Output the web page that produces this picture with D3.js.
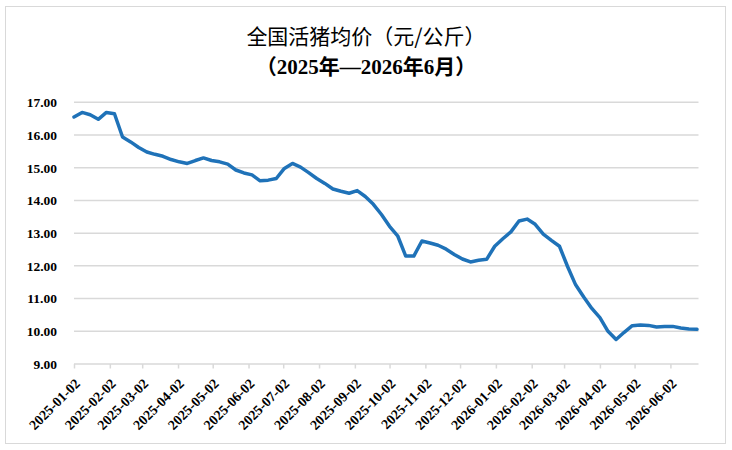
<!DOCTYPE html>
<html><head><meta charset="utf-8">
<script src="https://cdn.jsdelivr.net/npm/d3@7"></script>
<style>
body{margin:0;background:#fff}svg{display:block}
.serif{font-family:"Liberation Serif","Times New Roman",serif !important;font-weight:bold}
</style>
</head><body>
<svg id="c" width="732" height="450"></svg>
<script>
const startDate = "2025-01-02";
const prices = [
16.55,16.69,16.62,16.48,16.69,16.65,15.94,15.79,15.62,15.48,
15.41,15.35,15.25,15.18,15.13,15.22,15.30,15.22,15.18,15.11,
14.93,14.84,14.78,14.60,14.62,14.67,14.98,15.13,15.02,14.85,
14.67,14.52,14.35,14.28,14.22,14.30,14.12,13.88,13.57,13.21,
12.92,12.30,12.30,12.76,12.70,12.63,12.51,12.35,12.21,12.12,
12.17,12.20,12.60,12.83,13.04,13.37,13.43,13.27,12.97,12.78,
12.60,11.98,11.42,11.05,10.70,10.42,10.00,9.75,9.97,10.17,
10.19,10.18,10.13,10.15,10.15,10.10,10.07,10.06];
const yTicks = [9,10,11,12,13,14,15,16,17];
const xTickLabels = ["2025-01-02","2025-02-02","2025-03-02","2025-04-02","2025-05-02","2025-06-02","2025-07-02","2025-08-02","2025-09-02","2025-10-02","2025-11-02","2025-12-02","2026-01-02","2026-02-02","2026-03-02","2026-04-02","2026-05-02","2026-06-02"];
const title1 = "全国活猪均价（元/公斤）";
const title2 = "（2025年—2026年6月）";

const parse = d3.utcParse("%Y-%m-%d");
const fmt = d3.utcFormat("%Y-%m-%d");
const t0 = parse(startDate);
const data = prices.map((v,i)=>({date:d3.utcDay.offset(t0, 7*i), value:v}));
const xTicks = xTickLabels.map(parse);

const svg = d3.select("#c");
svg.append("rect").attr("x",5.5).attr("y",6.5).attr("width",720).attr("height",437)
  .attr("fill","#fff").attr("stroke","#d9d9d9").attr("stroke-width",1);

const L=74, R=697, T=102.3, B=364;
const x = d3.scaleUtc().domain([t0, data[data.length-1].date]).range([L,R]);
const y = d3.scaleLinear().domain([9,17]).range([B,T]);

svg.append("g").selectAll("line").data(yTicks).join("line")
  .attr("x1",L).attr("x2",698.5).attr("y1",d=>y(d)).attr("y2",d=>y(d))
  .attr("stroke","#d9d9d9").attr("stroke-width",1.5);

const yAxis = d3.axisLeft(y).tickValues(yTicks).tickFormat(d3.format(".2f")).tickSize(0).tickPadding(17);
const gy = svg.append("g").attr("transform",`translate(${L},0)`).call(yAxis)
  .attr("font-family",null).attr("font-size",null);
gy.select(".domain").remove();
gy.selectAll("text").attr("class","serif").style("font-size","13.5px").attr("fill","#000");

const xAxis = d3.axisBottom(x).tickValues(xTicks).tickFormat(fmt).tickSize(4.5).tickSizeOuter(0);
const gx = svg.append("g").attr("transform",`translate(0,${B})`).call(xAxis)
  .attr("font-family",null).attr("font-size",null);
gx.select(".domain").remove();
gx.selectAll(".tick line").attr("stroke","#d9d9d9").attr("stroke-width",1.5);
gx.selectAll("text").attr("class","serif").style("font-size","14px").attr("fill","#000")
  .attr("text-anchor","end").attr("y",0).attr("dy","0.35em")
  .attr("transform","translate(3,17) rotate(-45)");

svg.append("path").datum(data)
  .attr("fill","none").attr("stroke","#1f72b8").attr("stroke-width",3.5)
  .attr("stroke-linejoin","round").attr("stroke-linecap","round")
  .attr("d", d3.line().x(d=>x(d.date)).y(d=>y(d.value)));

svg.append("text").attr("x",366).attr("y",44).attr("text-anchor","middle")
  .style("font-family","'Noto Sans CJK SC',sans-serif").style("font-size","21px").attr("fill","#000")
  .text(title1);
svg.append("text").attr("x",366).attr("y",74).attr("text-anchor","middle")
  .style("font-family","'Liberation Serif','Noto Sans CJK SC',serif").style("font-weight","bold")
  .style("font-size","21px").attr("fill","#000").text(title2);
</script>
</body></html>
